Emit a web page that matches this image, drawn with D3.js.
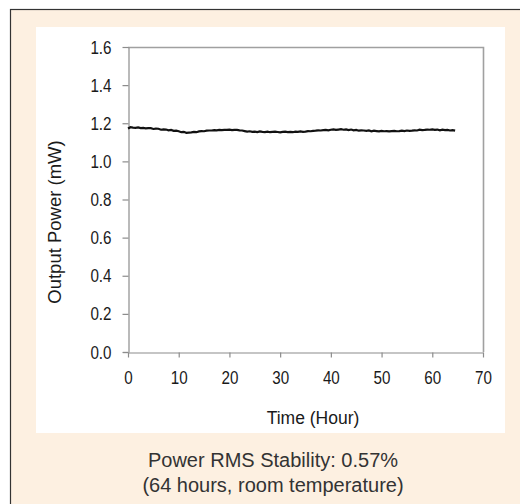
<!DOCTYPE html>
<html>
<head>
<meta charset="utf-8">
<script src="https://cdn.jsdelivr.net/npm/d3@7"></script>
<style>
  html, body { margin: 0; padding: 0; background: #ffffff; }
  svg { display: block; }
</style>
</head>
<body>
<svg id="chart" width="520" height="504"></svg>
<script>
// ---- data ----
const hours = [
  0, 0.5, 1, 1.5, 2, 2.5, 3, 3.5, 4, 4.5, 5, 5.5, 6, 6.5, 7, 7.5, 8, 8.5, 9, 9.5,
  10, 10.5, 11, 11.5, 12, 12.5, 13, 13.5, 14, 14.5, 15, 15.5, 16, 16.5, 17, 17.5, 18, 18.5, 19, 19.5,
  20, 20.5, 21, 21.5, 22, 22.5, 23, 23.5, 24, 24.5, 25, 25.5, 26, 26.5, 27, 27.5, 28, 28.5, 29, 29.5,
  30, 30.5, 31, 31.5, 32, 32.5, 33, 33.5, 34, 34.5, 35, 35.5, 36, 36.5, 37, 37.5, 38, 38.5, 39, 39.5,
  40, 40.5, 41, 41.5, 42, 42.5, 43, 43.5, 44, 44.5, 45, 45.5, 46, 46.5, 47, 47.5, 48, 48.5, 49, 49.5,
  50, 50.5, 51, 51.5, 52, 52.5, 53, 53.5, 54, 54.5, 55, 55.5, 56, 56.5, 57, 57.5, 58, 58.5, 59, 59.5,
  60, 60.5, 61, 61.5, 62, 62.5, 63, 63.5, 64, 64.5
];
const powerMW = [
  1.172, 1.179, 1.177, 1.176, 1.178, 1.175, 1.176, 1.173, 1.174, 1.174, 1.170, 1.172, 1.171, 1.166, 1.168, 1.167, 1.163, 1.165, 1.160, 1.161,
  1.158, 1.153, 1.155, 1.150, 1.151, 1.152, 1.155, 1.153, 1.157, 1.159, 1.158, 1.161, 1.162, 1.162, 1.164, 1.163, 1.165, 1.164, 1.165, 1.165,
  1.166, 1.164, 1.165, 1.165, 1.163, 1.162, 1.159, 1.156, 1.158, 1.155, 1.156, 1.154, 1.157, 1.155, 1.154, 1.156, 1.153, 1.155, 1.156, 1.154,
  1.152, 1.155, 1.156, 1.154, 1.155, 1.153, 1.156, 1.155, 1.157, 1.155, 1.156, 1.159, 1.158, 1.160, 1.161, 1.163, 1.162, 1.164, 1.165, 1.163,
  1.166, 1.168, 1.165, 1.167, 1.169, 1.166, 1.168, 1.164, 1.167, 1.163, 1.165, 1.161, 1.163, 1.162, 1.160, 1.162, 1.158, 1.161, 1.159, 1.157,
  1.160, 1.158, 1.159, 1.157, 1.159, 1.160, 1.158, 1.159, 1.161, 1.159, 1.162, 1.160, 1.161, 1.163, 1.162, 1.166, 1.164, 1.165, 1.167, 1.166,
  1.168, 1.165, 1.167, 1.163, 1.166, 1.164, 1.165, 1.162, 1.164, 1.161
];
const xTicks = [0, 10, 20, 30, 40, 50, 60, 70];
const yTicks = [0.0, 0.2, 0.4, 0.6, 0.8, 1.0, 1.2, 1.4, 1.6];
const xTitle = "Time (Hour)";
const yTitle = "Output Power (mW)";
const captionLines = ["Power RMS Stability: 0.57%", "(64 hours, room temperature)"];

// ---- layout ----
const svg = d3.select("#chart");
const plot = { left: 128, right: 483, top: 47, bottom: 352 };

// outer cream frame (top + left border visible)
svg.append("rect")
  .attr("x", 10.5).attr("y", 9.5)
  .attr("width", 520).attr("height", 510)
  .attr("fill", "#fdf0e1")
  .attr("stroke", "#333333").attr("stroke-width", 1.2);

// white chart panel
svg.append("rect")
  .attr("x", 36).attr("y", 27)
  .attr("width", 469).attr("height", 406)
  .attr("fill", "#ffffff");

const x = d3.scaleLinear().domain([0, 70]).range([plot.left, plot.right]);
const y = d3.scaleLinear().domain([0, 1.6]).range([plot.bottom, plot.top]);

// plot frame (top/right)
svg.append("path")
  .attr("d", `M${plot.left},${plot.top + 0.5}H${plot.right + 0.5}V${plot.bottom}`)
  .attr("fill", "none")
  .attr("stroke", "#a0a0a0").attr("stroke-width", 1.6);

const tickFont = "'Liberation Sans', Arial, sans-serif";
const squeeze = 0.8;

const xAxis = svg.append("g")
  .attr("transform", `translate(0,${plot.bottom + 0.5})`)
  .call(d3.axisBottom(x).tickValues(xTicks).tickFormat(d3.format("d")).tickSize(5).tickPadding(13).tickSizeOuter(0));
const yAxis = svg.append("g")
  .attr("transform", `translate(${plot.left + 0.5},0)`)
  .call(d3.axisLeft(y).tickValues(yTicks).tickFormat(d3.format(".1f")).tickSize(6).tickPadding(11).tickSizeOuter(0));

[xAxis, yAxis].forEach(g => {
  g.select(".domain").attr("stroke", "#8c8c8c").attr("stroke-width", 1.2);
  g.selectAll(".tick line").attr("stroke", "#8c8c8c").attr("stroke-width", 1.2);
  g.selectAll(".tick text")
    .attr("fill", "#1a1a1a")
    .style("font-family", tickFont)
    .style("font-size", "19px");
});
// condense tick labels horizontally (narrow face look)
xAxis.selectAll(".tick text")
  .attr("transform", `scale(${squeeze},1)`);
yAxis.selectAll(".tick text").each(function () {
  const t = d3.select(this);
  const tx = +t.attr("x");
  t.attr("x", 0).attr("transform", `translate(${tx},0) scale(${squeeze},1)`);
});

// small left stub at the origin like the reference
svg.append("line")
  .attr("x1", plot.left - 5).attr("x2", plot.left)
  .attr("y1", plot.bottom + 0.5).attr("y2", plot.bottom + 0.5)
  .attr("stroke", "#8c8c8c").attr("stroke-width", 1.2);

// data line
const data = hours.map((h, i) => ({ h, v: powerMW[i] }));
svg.append("path")
  .datum(data)
  .attr("fill", "none")
  .attr("stroke", "#111111")
  .attr("stroke-width", 2.2)
  .attr("stroke-linejoin", "miter")
  .attr("d", d3.line().x(d => x(d.h)).y(d => y(d.v)));

// axis titles
svg.append("text")
  .attr("x", 313).attr("y", 424)
  .attr("text-anchor", "middle")
  .style("font-family", "'Liberation Sans', Arial, sans-serif")
  .style("font-size", "17.5px")
  .attr("fill", "#1a1a1a")
  .text(xTitle);

svg.append("text")
  .attr("transform", "translate(61,222) rotate(-90)")
  .attr("text-anchor", "middle")
  .style("font-family", "'Liberation Sans', Arial, sans-serif")
  .style("font-size", "18.5px")
  .attr("fill", "#1a1a1a")
  .text(yTitle);

// caption
svg.selectAll("text.caption")
  .data(captionLines)
  .enter().append("text")
  .attr("class", "caption")
  .attr("x", 273)
  .attr("y", (d, i) => 467 + i * 25)
  .attr("text-anchor", "middle")
  .style("font-family", "'Liberation Sans', Arial, sans-serif")
  .style("font-size", "20px")
  .attr("fill", "#333333")
  .text(d => d);
</script>
</body>
</html>
